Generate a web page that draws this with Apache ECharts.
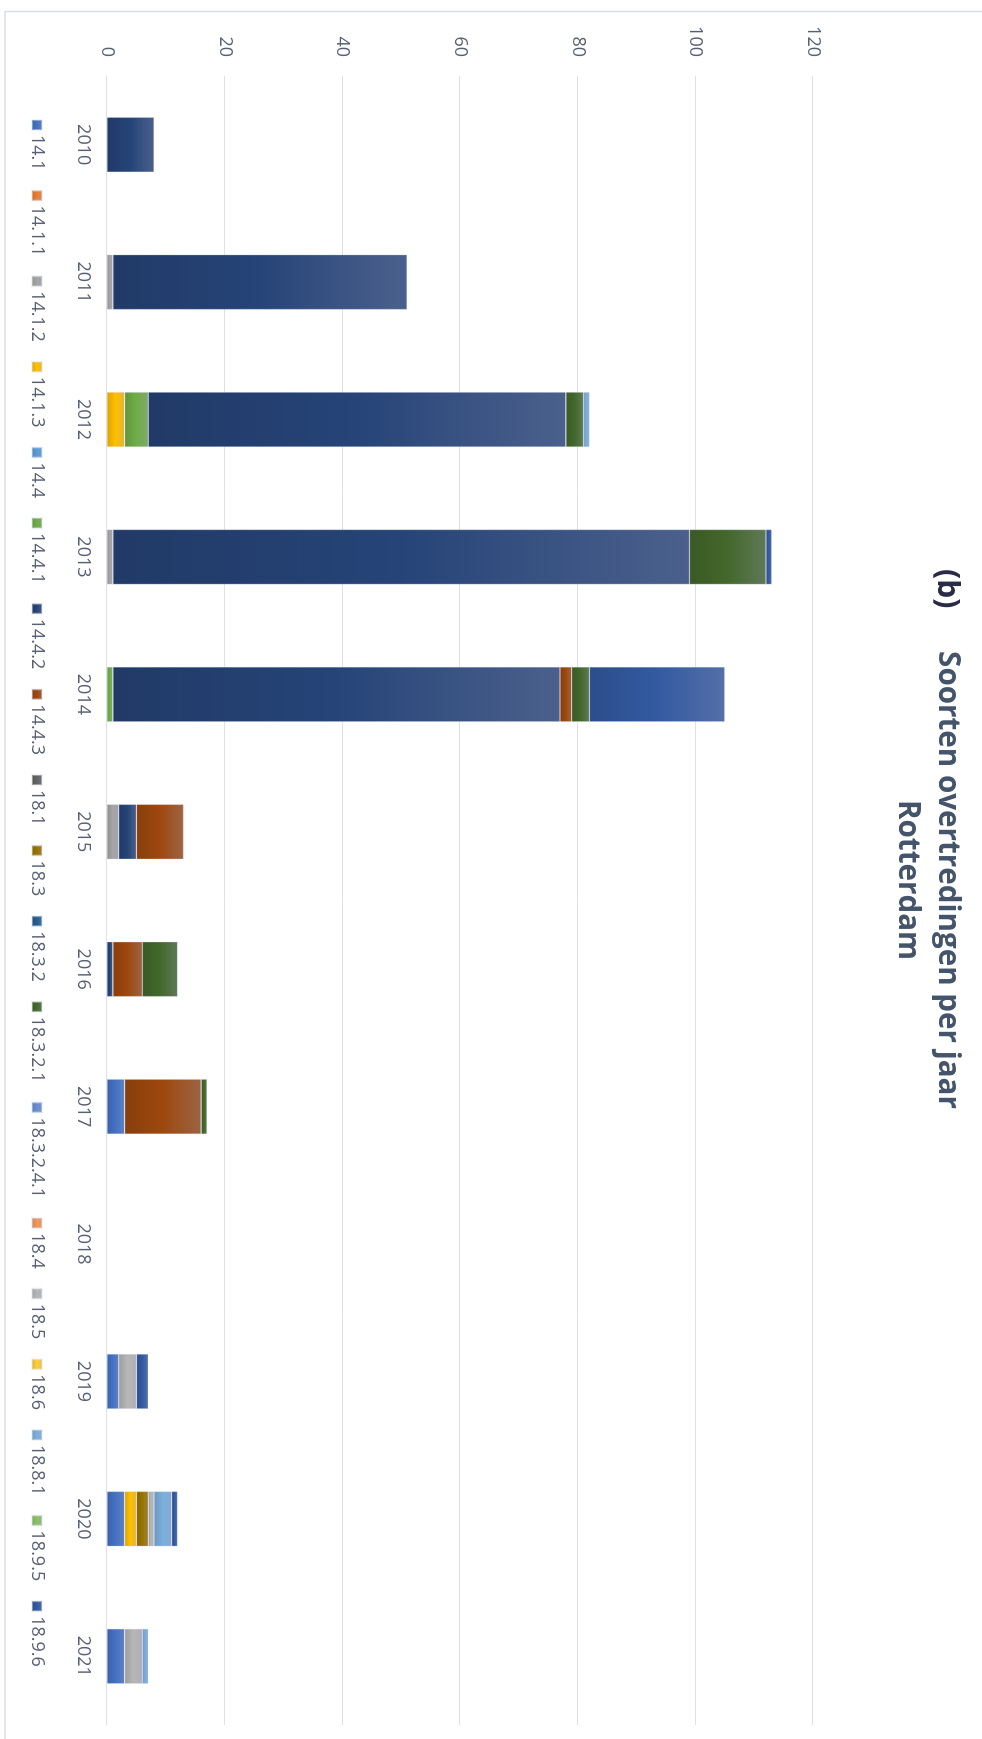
<!DOCTYPE html>
<html>
<head>
<meta charset="utf-8">
<script src="https://cdn.jsdelivr.net/npm/echarts@6/dist/echarts.min.js"></script>
<style>
  html, body { margin: 0; padding: 0; background: #ffffff; }
  body { width: 982px; height: 1739px; overflow: hidden; position: relative; }
  /* The chart is laid out landscape and turned a quarter clockwise onto the portrait page */
  #chart {
    position: absolute; left: 0; top: 0;
    width: 1739px; height: 982px;
    transform-origin: 0 0;
    transform: translate(982px, 0) rotate(90deg);
  }
</style>
</head>
<body>
<div id="chart"></div>
<script>
// Years on the category axis
const years = ['2010', '2011', '2012', '2013', '2014', '2015', '2016', '2017', '2018', '2019', '2020', '2021'];

// Violation types (legend order = stacking order)
const types = ['14.1', '14.1.1', '14.1.2', '14.1.3', '14.4', '14.4.1', '14.4.2', '14.4.3', '18.1', '18.3',
  '18.3.2', '18.3.2.1', '18.3.2.4.1', '18.4', '18.5', '18.6', '18.8.1', '18.9.5', '18.9.6'];

// Counts per type, one value per year (2010 … 2021)
const v_14_1       = [0, 0, 0, 0, 0, 0, 0, 3, 0, 2, 3, 3];
const v_14_1_1     = [0, 0, 0, 0, 0, 0, 0, 0, 0, 0, 0, 0];
const v_14_1_2     = [0, 1, 0, 1, 0, 2, 0, 0, 0, 0, 0, 0];
const v_14_1_3     = [0, 0, 3, 0, 0, 0, 0, 0, 0, 0, 2, 0];
const v_14_4       = [0, 0, 0, 0, 0, 0, 0, 0, 0, 0, 0, 0];
const v_14_4_1     = [0, 0, 4, 0, 1, 0, 0, 0, 0, 0, 0, 0];
const v_14_4_2     = [8, 50, 71, 98, 76, 3, 1, 0, 0, 0, 0, 0];
const v_14_4_3     = [0, 0, 0, 0, 2, 8, 5, 13, 0, 0, 0, 0];
const v_18_1       = [0, 0, 0, 0, 0, 0, 0, 0, 0, 0, 0, 0];
const v_18_3       = [0, 0, 0, 0, 0, 0, 0, 0, 0, 0, 2, 0];
const v_18_3_2     = [0, 0, 0, 0, 0, 0, 0, 0, 0, 0, 0, 0];
const v_18_3_2_1   = [0, 0, 3, 13, 3, 0, 6, 1, 0, 0, 0, 0];
const v_18_3_2_4_1 = [0, 0, 0, 0, 0, 0, 0, 0, 0, 0, 0, 0];
const v_18_4       = [0, 0, 0, 0, 0, 0, 0, 0, 0, 0, 0, 0];
const v_18_5       = [0, 0, 0, 0, 0, 0, 0, 0, 0, 3, 1, 3];
const v_18_6       = [0, 0, 0, 0, 0, 0, 0, 0, 0, 0, 0, 0];
const v_18_8_1     = [0, 0, 1, 0, 0, 0, 0, 0, 0, 0, 3, 1];
const v_18_9_5     = [0, 0, 0, 0, 0, 0, 0, 0, 0, 0, 0, 0];
const v_18_9_6     = [0, 0, 0, 1, 23, 0, 0, 0, 0, 2, 1, 0];

const seriesValues = [v_14_1, v_14_1_1, v_14_1_2, v_14_1_3, v_14_4, v_14_4_1, v_14_4_2, v_14_4_3, v_18_1, v_18_3,
  v_18_3_2, v_18_3_2_1, v_18_3_2_4_1, v_18_4, v_18_5, v_18_6, v_18_8_1, v_18_9_5, v_18_9_6];

// Value axis ticks
const valueTicks = { min: 0, max: 120, interval: 20 };

// Office-style palette, one colour per type
const palette = ['#4472C4', '#ED7D31', '#A5A5A5', '#FFC000', '#5B9BD5', '#70AD47', '#264478', '#9E480E', '#636363',
  '#997300', '#255E91', '#43682B', '#698ED0', '#F1975A', '#B7B7B7', '#FFCD33', '#7CAFDD', '#8CC168', '#335AA1'];

function hexToRgb(h) {
  const n = parseInt(h.slice(1), 16);
  return [(n >> 16) & 255, (n >> 8) & 255, n & 255];
}
function rgb(c) { return 'rgb(' + c.map(x => Math.round(Math.max(0, Math.min(255, x)))).join(',') + ')'; }
function shade(h, f) { return rgb(hexToRgb(h).map(x => x * f)); }
function mix(h, h2, t) {
  const a = hexToRgb(h), b = hexToRgb(h2);
  return rgb(a.map((x, i) => x * (1 - t) + b[i] * t));
}

// Each stacked segment fades from a deep tone at its base to a greyed tone at its end
function segmentFill(h) {
  return new echarts.graphic.LinearGradient(0, 1, 0, 0, [
    { offset: 0, color: shade(h, 0.86) },
    { offset: 0.5, color: h },
    { offset: 1, color: mix(h, '#9A9CB8', 0.32) }
  ]);
}

const series = types.map((name, i) => ({
  name: name,
  type: 'bar',
  stack: 'total',
  barWidth: '40%',
  data: seriesValues[i].map(v => (v === 0 ? null : v)),
  itemStyle: {
    color: segmentFill(palette[i]),
    borderColor: 'rgba(225,230,240,0.45)',
    borderWidth: 0.6
  },
  emphasis: { disabled: true }
}));

const labelColor = '#586174';
const fontFamily = '"Open Sans", "Noto Sans", sans-serif';

const chart = echarts.init(document.getElementById('chart'), null, { renderer: 'canvas', width: 1739, height: 982 });

chart.setOption({
  animation: false,
  backgroundColor: '#ffffff',
  grid: { left: 76, right: 14, top: 169, bottom: 107, containLabel: false },
  xAxis: {
    type: 'category',
    data: years,
    axisLine: { show: true, lineStyle: { color: '#DCE1E8', width: 1 } },
    axisTick: { show: false },
    axisLabel: { color: labelColor, fontSize: 18, fontFamily: fontFamily, margin: 15 }
  },
  yAxis: {
    type: 'value',
    min: valueTicks.min,
    max: valueTicks.max,
    interval: valueTicks.interval,
    axisLine: { show: false },
    axisTick: { show: false },
    splitLine: { lineStyle: { color: '#DCE1E8', width: 1 } },
    axisLabel: { color: labelColor, fontSize: 18, fontFamily: fontFamily, margin: 19 }
  },
  legend: {
    data: types,
    left: 119,
    top: 936,
    padding: 0,
    icon: 'rect',
    itemWidth: 10,
    itemHeight: 10,
    itemGap: 19,
    textStyle: { color: labelColor, fontSize: 18, fontFamily: fontFamily }
  },
  graphic: [
    {
      type: 'rect',
      z: -10,
      silent: true,
      shape: { x: 11.5, y: -6, width: 1740, height: 983 },
      style: { fill: 'none', stroke: '#D9DEE5', lineWidth: 1.5 }
    },
    {
      type: 'text',
      silent: true,
      style: {
        text: '(b)',
        x: 569, y: 15,
        align: 'left', verticalAlign: 'top',
        fontSize: 30, fontWeight: 'bold', fontFamily: fontFamily,
        lineHeight: 40,
        fill: '#2A2B46'
      }
    },
    {
      type: 'text',
      silent: true,
      style: {
        text: 'Soorten overtredingen per jaar\nRotterdam',
        x: 880, y: 15,
        align: 'center', verticalAlign: 'top',
        fontSize: 29.6, fontWeight: 'bold', fontFamily: fontFamily,
        lineHeight: 40,
        fill: '#44546A'
      }
    }
  ],
  series: series
});
</script>
</body>
</html>
